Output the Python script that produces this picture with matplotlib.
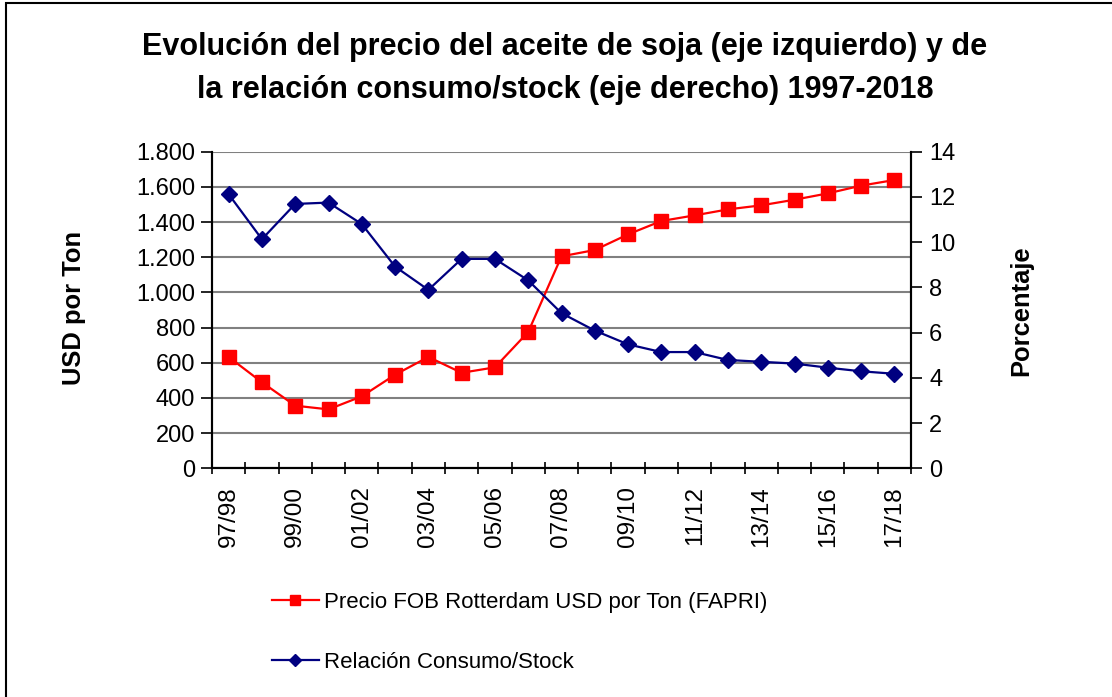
import matplotlib
matplotlib.use("Agg")
import matplotlib.pyplot as plt
from matplotlib.patches import Rectangle
from matplotlib.ticker import FixedLocator, FuncFormatter

plt.rcParams['font.family'] = ['Liberation Sans', 'DejaVu Sans']

categories = ["97/98", "98/99", "99/00", "00/01", "01/02", "02/03", "03/04",
              "04/05", "05/06", "06/07", "07/08", "08/09", "09/10", "10/11",
              "11/12", "12/13", "13/14", "14/15", "15/16", "16/17", "17/18"]
precio = [633, 489, 356, 335, 409, 532, 633, 543, 574, 775, 1205,
          1241, 1330, 1406, 1438, 1472, 1495, 1527, 1563, 1607, 1639]
relacion = [12.12, 10.13, 11.69, 11.75, 10.80, 8.92, 7.89, 9.26, 9.26, 8.31,
            6.86, 6.09, 5.48, 5.14, 5.14, 4.79, 4.71, 4.63, 4.45, 4.29, 4.18]
left_ticks = [0, 200, 400, 600, 800, 1000, 1200, 1400, 1600, 1800]
right_ticks = [0, 2, 4, 6, 8, 10, 12, 14]

W, H = 1112, 697
fig = plt.figure(figsize=(W / 100, H / 100), dpi=100)
ax = fig.add_axes([212 / W, 1 - 468.3 / H, (911 - 212) / W, (468.3 - 151.7) / H])
ax2 = ax.twinx()

x = list(range(len(categories)))
ax.plot(x, precio, color='#ff0000', lw=1.6, marker='s', markersize=10,
        markeredgecolor='#ff0000', label='Precio FOB Rotterdam USD por Ton (FAPRI)', zorder=3)
ax2.plot(x, relacion, color='#000080', lw=1.6, marker='D', markersize=8.5,
         markeredgecolor='#000080', label='Relación Consumo/Stock', zorder=3)

ax.set_xlim(-0.5, len(categories) - 0.5)
ax.set_ylim(left_ticks[0], left_ticks[-1])
ax2.set_ylim(right_ticks[0], right_ticks[-1])

ax.set_yticks(left_ticks)
ax.yaxis.set_major_formatter(FuncFormatter(lambda v, p: f"{int(v):,}".replace(',', '.')))
ax2.set_yticks(right_ticks)

ax.set_xticks(x[::2])
ax.set_xticklabels(categories[::2], rotation=90, fontsize=17.5)
ax.xaxis.set_minor_locator(FixedLocator([i - 0.5 for i in range(len(categories) + 1)]))
ax.tick_params(axis='x', which='major', length=0, pad=13)
ax.tick_params(axis='x', which='minor', length=9, direction='inout', width=1.2, color='black')
ax.tick_params(axis='y', labelsize=17, length=8, width=1.2, direction='out', pad=4)
ax2.tick_params(axis='y', labelsize=17, length=8, width=1.2, direction='out', pad=5)

ax.grid(axis='y', color='#808080', lw=1.5)
ax.set_axisbelow(True)
for a in (ax, ax2):
    a.spines['top'].set_visible(False)
    for sp in ['left', 'right', 'bottom']:
        a.spines[sp].set_linewidth(1.5)
        a.spines[sp].set_color('black')

fig.text(74 / W, 1 - 308 / H, 'USD por Ton', rotation=90, ha='center', va='center',
         fontsize=18.4, fontweight='bold')
fig.text(1021 / W, 1 - 311 / H, 'Porcentaje', rotation=90, ha='center', va='center',
         fontsize=18.4, fontweight='bold')

fig.text(565 / W, 1 - 55 / H, 'Evolución del precio del aceite de soja (eje izquierdo) y de',
         ha='center', va='baseline', fontsize=22, fontweight='bold')
fig.text(565 / W, 1 - 98 / H, 'la relación consumo/stock (eje derecho) 1997-2018',
         ha='center', va='baseline', fontsize=22, fontweight='bold')

h1, l1 = ax.get_legend_handles_labels()
h2, l2 = ax2.get_legend_handles_labels()
fig.legend(h1 + h2, l1 + l2, loc='upper left', bbox_to_anchor=(252 / W, 1 - 572 / H),
           frameon=False, fontsize=16, handlelength=2.1, handletextpad=0.25,
           labelspacing=1.75, markerscale=0.75)

fig.patches.append(Rectangle((6 / W, -0.1), 2, 1.1 - 3 / H, transform=fig.transFigure,
                             fill=False, edgecolor='black', lw=1.5))

fig.savefig('out.png', dpi=100)
